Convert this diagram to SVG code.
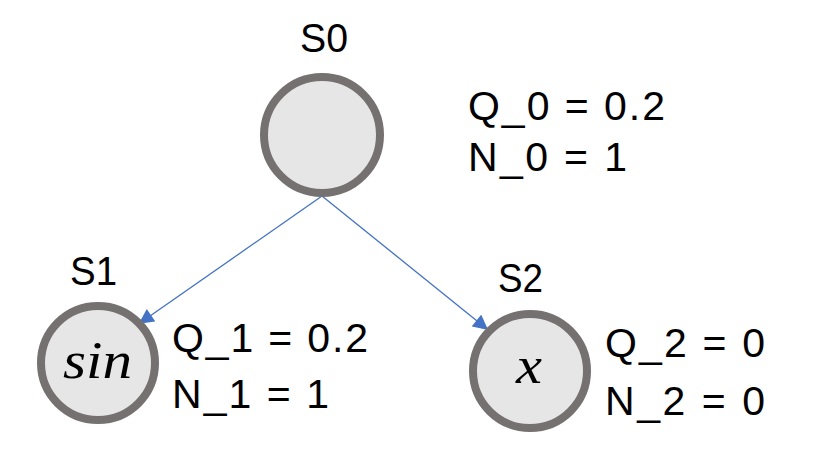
<svg xmlns="http://www.w3.org/2000/svg" width="838" height="460" viewBox="0 0 838 460">
<style>
.node{fill:#E7E6E6;stroke:#767171;stroke-width:8}
.lbl{font-family:"Liberation Sans","Noto Sans",sans-serif;font-size:41px;fill:#000}
.math{font-family:"Liberation Serif",serif;font-style:italic;font-size:52px;fill:#000}
.edge{stroke:#4472C4;stroke-width:1.3;fill:none;marker-end:url(#arr)}
</style>
<defs>
<marker id="arr" viewBox="0 0 10 10" refX="9" refY="5" markerWidth="16" markerHeight="15" markerUnits="userSpaceOnUse" orient="auto">
<path d="M0,0 L10,5 L0,10 z" fill="#4472C4"/>
</marker>
</defs>
<rect width="838" height="460" fill="#fff"/>
<g id="connectors">
<line class="edge" x1="322" y1="196" x2="140" y2="323"/>
<line class="edge" x1="322" y1="196" x2="487" y2="329"/>
</g>
<g id="S0">
<circle class="node" cx="322" cy="135" r="58"/>
<text class="lbl" x="300" y="52" textLength="48" lengthAdjust="spacingAndGlyphs">S0</text>
<text class="lbl" x="468" y="120" font-size="43" textLength="197" lengthAdjust="spacing">Q_0 = 0.2</text>
<text class="lbl" x="468" y="171" font-size="43" textLength="159" lengthAdjust="spacing">N_0 = 1</text>
</g>
<g id="S1">
<circle class="node" cx="98" cy="363" r="57"/>
<text class="math" x="63" y="378" textLength="69" lengthAdjust="spacingAndGlyphs">sin</text>
<text class="lbl" x="70" y="285" textLength="47" lengthAdjust="spacingAndGlyphs">S1</text>
<text class="lbl" x="172" y="352" font-size="43" textLength="196" lengthAdjust="spacing">Q_1 = 0.2</text>
<text class="lbl" x="172" y="408" font-size="43" textLength="157" lengthAdjust="spacing">N_1 = 1</text>
</g>
<g id="S2">
<circle class="node" cx="530" cy="371" r="57"/>
<text class="math" x="516" y="383" textLength="26" lengthAdjust="spacingAndGlyphs">x</text>
<text class="lbl" x="498" y="292" textLength="45" lengthAdjust="spacingAndGlyphs">S2</text>
<text class="lbl" x="605" y="357" font-size="43" textLength="160" lengthAdjust="spacing">Q_2 = 0</text>
<text class="lbl" x="605" y="415" font-size="43" textLength="160" lengthAdjust="spacing">N_2 = 0</text>
</g>
</svg>
